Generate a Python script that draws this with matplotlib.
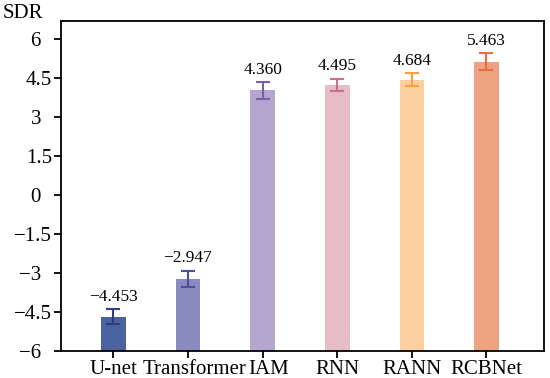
import matplotlib
matplotlib.use("Agg")
import matplotlib.pyplot as plt
import matplotlib.transforms as mtransforms
import numpy as np

plt.rcParams["font.family"] = ["Liberation Serif", "DejaVu Serif"]

# data
models = ["U-net", "Transformer", "IAM", "RNN", "RANN", "RCBNet"]
sdr_mean = [-4.69, -3.22, 4.04, 4.25, 4.44, 5.15]
sdr_err = [0.29, 0.31, 0.32, 0.24, 0.25, 0.31]
labels = ["\u22124.453", "\u22122.947", "4.360", "4.495", "4.684", "5.463"]
yticks = [-6, -4.5, -3, -1.5, 0, 1.5, 3, 4.5, 6]
ytick_labels = ["\u22126  ", "\u22124.5", "\u22123  ", "\u22121.5", "0  ",
                "1.5", "3  ", "4.5", "6  "]

bar_colors = ["#4a62a0", "#8a8cc0", "#b4a6cf", "#e6bcc6", "#fccf9f", "#eda282"]
err_colors = ["#2f3f7a", "#4e4f9a", "#7b5fae", "#cc6f8e", "#f8a139", "#e5703f"]

fig, ax = plt.subplots(figsize=(5.5, 3.78), dpi=100)
fig.subplots_adjust(left=0.111, right=0.989, top=0.945, bottom=0.072)

x = np.arange(len(models))
bottom = -6
ax.bar(x, np.array(sdr_mean) - bottom, bottom=bottom, width=0.33,
       color=bar_colors, zorder=2)
for xi, m, e, c, lab in zip(x, sdr_mean, sdr_err, err_colors, labels):
    ax.errorbar(xi, m, yerr=e, color=c, capsize=5, elinewidth=1.5,
                capthick=1.5, zorder=3)
    ax.annotate(lab, (xi, m + e), xytext=(0, 3), textcoords="offset points",
                ha="center", va="bottom", fontsize=12.5)

ax.set_xlim(-0.7, 5.77)
ax.set_ylim(-6, 6.72)
ax.set_yticks(yticks)
ax.set_yticklabels(ytick_labels)
ax.set_xticks(x)
ax.set_xticklabels(models)
ax.tick_params(axis="both", labelsize=15, length=5, width=1.3,
               direction="out", pad=1.5)
for s in ax.spines.values():
    s.set_linewidth(1.3)

# the two crowded labels sit a little right of their ticks in the original
for lbl, dx in zip(ax.get_xticklabels(), [0, 7, 6, 0, 0, 0]):
    if dx:
        off = mtransforms.ScaledTranslation(dx / 100, 0, fig.dpi_scale_trans)
        lbl.set_transform(lbl.get_transform() + off)

fig.text(0.005, 0.99, "SDR", ha="left", va="top", fontsize=15)

fig.savefig("out.png", dpi=100)
